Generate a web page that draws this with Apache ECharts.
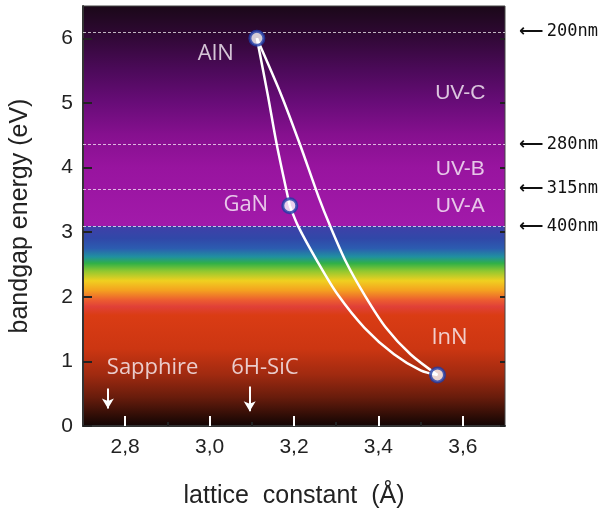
<!DOCTYPE html>
<html><head><meta charset="utf-8">
<script src="https://cdn.jsdelivr.net/npm/echarts@6/dist/echarts.min.js"></script>
<style>html,body{margin:0;padding:0;background:#fff}#c{width:609px;height:514px}</style>
</head><body><div id="c"></div>
<script>
// ---- data ----
const xTicks = [2.8, 3.0, 3.2, 3.4, 3.6];
const xMinorTicks = [2.9, 3.1, 3.3, 3.5];
const yTicks = [0, 1, 2, 3, 4, 5, 6];
const compounds = ['AlN', 'GaN', 'InN'];
const compoundX = [3.112, 3.19, 3.54];
const compoundY = [6.0, 3.41, 0.79];
// AlN -> GaN
const curveAGx = [3.112, 3.138, 3.159, 3.19];
const curveAGy = [6.0, 5.12, 4.36, 3.41];
// GaN -> InN
const curveGIx = [3.19, 3.21, 3.257, 3.304, 3.367, 3.437, 3.50, 3.54];
const curveGIy = [3.41, 3.09, 2.53, 2.03, 1.52, 1.11, 0.86, 0.79];
// AlN -> InN
const curveAIx = [3.112, 3.17, 3.214, 3.258, 3.286, 3.324, 3.367, 3.418, 3.476, 3.54];
const curveAIy = [6.0, 5.12, 4.36, 3.55, 3.09, 2.53, 2.03, 1.52, 1.11, 0.79];
// wavelength lines
const waveLabels = ['200nm', '280nm', '315nm', '400nm'];
const waveEnergy = [6.1, 4.36, 3.67, 3.09];
// region labels
const uvLabels = ['UV-C', 'UV-B', 'UV-A'];
const uvX = [3.594, 3.594, 3.594];
const uvY = [5.15, 3.97, 3.40];
const substrates = ['Sapphire', '6H-SiC'];
const substrateTextX = [2.865, 3.131];
const substrateTextY = [0.90, 0.90];
const substrateArrowX = [2.759, 3.095];
const substrateArrowTop = [0.58, 0.61];
const substrateArrowBottom = [0.27, 0.23];
// background spectrum: energy (eV) -> colour
const specE = [6.5, 6.1, 5.5, 5.0, 4.5, 4.0, 3.1, 3.09, 2.9, 2.75, 2.62, 2.52, 2.4, 2.25, 2.1, 1.95, 1.85, 1.72, 1.2, 0.8, 0.45, 0.15, 0];
const specC = ['#1a0818', '#2c0830', '#4c0a5a', '#680c78', '#86108f', '#98149f', '#a21aaa', '#4040a8', '#3048a8', '#2c5cb0', '#2090a0', '#30b048', '#90c830', '#f0d020', '#f4a020', '#ec5c30', '#e04038', '#da3c14', '#cc3612', '#a02a10', '#681c0c', '#2c0c06', '#100404'];

const yMin = 0, yMax = 6.5, xMin = 2.7, xMax = 3.7;
const stops = specE.map((e, i) => ({offset: (yMax - e) / (yMax - yMin), color: specC[i]}));
const zip = (a, b) => a.map((v, i) => [v, b[i]]);

const tickFont = 'Liberation Sans';
const lineStyle = {color: '#ffffff', width: 2.5};

const chart = echarts.init(document.getElementById('c'), null, {renderer: 'canvas'});
chart.setOption({
  animation: false,
  grid: {left: 80, right: 104, top: 6, bottom: 81, show: true,
    backgroundColor: {type: 'linear', x: 0, y: 0, x2: 0, y2: 1, colorStops: stops},
    borderColor: '#444', borderWidth: 1},
  xAxis: [{
    type: 'value', min: xMin, max: xMax,
    name: 'lattice  constant  (Å)', nameLocation: 'middle', nameGap: 58,
    nameTextStyle: {fontFamily: tickFont, fontSize: 25, color: '#222'},
    axisLine: {show: true, lineStyle: {color: '#333', width: 2}},
    axisTick: {show: true, inside: true, length: 10, customValues: xTicks, lineStyle: {color: '#ffffff', width: 2}},
    axisLabel: {customValues: xTicks, formatter: v => v.toFixed(1).replace('.', ','), fontFamily: tickFont, fontSize: 21, color: '#222', margin: 11},
    splitLine: {show: false}
  }, {
    type: 'value', min: xMin, max: xMax, position: 'bottom',
    axisLine: {show: false},
    axisTick: {show: true, inside: true, length: 4, customValues: xMinorTicks, lineStyle: {color: '#222', width: 2}},
    axisLabel: {show: false}, splitLine: {show: false}
  }],
  yAxis: [{
    type: 'value', min: yMin, max: yMax,
    name: 'bandgap energy (eV)', nameLocation: 'middle', nameGap: 50,
    nameTextStyle: {fontFamily: tickFont, fontSize: 25, color: '#222'},
    axisLine: {show: true, lineStyle: {color: '#333', width: 2}},
    axisTick: {show: true, inside: true, length: 9, customValues: yTicks, lineStyle: {color: '#222', width: 2}},
    axisLabel: {customValues: yTicks, fontFamily: tickFont, fontSize: 21, color: '#222', margin: 10},
    splitLine: {show: false}
  }, {
    type: 'value', min: yMin, max: yMax, position: 'right',
    axisLine: {show: false},
    axisTick: {show: true, inside: true, length: 5, customValues: yTicks, lineStyle: {color: '#222', width: 2}},
    axisLabel: {show: false}, splitLine: {show: false}
  }],
  series: [
    {type: 'line', data: zip(curveAGx, curveAGy), smooth: 0.3, symbol: 'none', lineStyle: lineStyle, z: 3,
      markLine: {
        silent: true, symbol: 'none',
        lineStyle: {color: 'rgba(255,255,255,0.7)', type: [3, 2], width: 1},
        label: {show: true, position: 'end', distance: 14, color: '#111',
          formatter: p => '{a|⟵} {b|' + p.name + '}',
          rich: {a: {fontFamily: 'DejaVu Sans', fontSize: 17, fontWeight: 'bold', color: '#111'}, b: {fontFamily: 'DejaVu Sans Mono', fontSize: 17, color: '#111'}}},
        data: waveEnergy.map((e, i) => ({name: waveLabels[i], yAxis: e}))
      }},
    {type: 'line', data: zip(curveGIx, curveGIy), smooth: 0.3, symbol: 'none', lineStyle: lineStyle, z: 3},
    {type: 'line', data: zip(curveAIx, curveAIy), smooth: 0.3, symbol: 'none', lineStyle: lineStyle, z: 3},
    {type: 'scatter', z: 5, symbolSize: 14,
      itemStyle: {color: '#ffffff', borderColor: '#1f3ca8', borderWidth: 3},
      data: compounds.map((n, i) => ({name: n, value: [compoundX[i], compoundY[i]],
        label: {offset: [[-41, 15], [-44, -1], [12, -37]][i]}})),
      label: {show: true, position: 'inside', formatter: p => p.name, color: '#faf4fa',
        fontFamily: 'Open Sans', fontSize: 22}},
    {type: 'scatter', z: 4, symbolSize: 0,
      data: uvLabels.map((n, i) => ({name: n, value: [uvX[i], uvY[i]]})),
      label: {show: true, position: 'inside', formatter: p => p.name, color: '#faf4fa',
        fontFamily: tickFont, fontSize: 21}},
    {type: 'scatter', z: 4, symbolSize: 0,
      data: substrates.map((n, i) => ({name: n, value: [substrateTextX[i], substrateTextY[i]]})),
      label: {show: true, position: 'inside', formatter: p => p.name, color: '#faf4fa',
        fontFamily: 'Open Sans', fontSize: 22},
      markLine: {silent: true, symbol: ['none', 'arrow'], symbolSize: [9, 10],
        lineStyle: {color: '#ffffff', type: 'solid', width: 2}, label: {show: false},
        data: substrateArrowX.map((x, i) => [{coord: [x, substrateArrowTop[i]]}, {coord: [x, substrateArrowBottom[i]]}])}}
  ]
});
</script></body></html>
